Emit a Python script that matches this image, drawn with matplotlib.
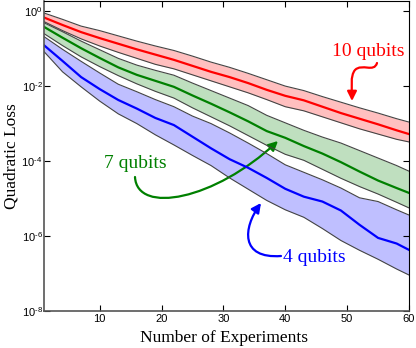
import numpy as np
import matplotlib
matplotlib.use("Agg")
import matplotlib.pyplot as plt
from matplotlib.path import Path
from matplotlib.patches import FancyArrowPatch
from matplotlib.ticker import FuncFormatter

plt.rcParams['mathtext.fontset'] = 'custom'
plt.rcParams['mathtext.rm'] = 'Liberation Sans'
plt.rcParams['mathtext.it'] = 'Liberation Sans:italic'

# number of experiments where values were read
experiments = [1, 4, 7, 10, 13, 16, 19, 22, 25, 28, 31, 34, 37, 40, 43, 46, 49, 52, 55, 58, 60]

# log10 of quadratic loss: mean, upper edge, lower edge of band
q10_mean = [-0.17, -0.37, -0.56, -0.72, -0.87, -1.02, -1.16, -1.30, -1.46, -1.62, -1.76,
            -1.92, -2.10, -2.26, -2.38, -2.55, -2.72, -2.87, -3.02, -3.18, -3.28]
q10_upper = [-0.05, -0.22, -0.40, -0.52, -0.66, -0.80, -0.93, -1.05, -1.20, -1.36, -1.50,
             -1.66, -1.83, -2.00, -2.12, -2.28, -2.43, -2.58, -2.72, -2.87, -2.96]
q10_lower = [-0.28, -0.52, -0.74, -0.93, -1.10, -1.26, -1.42, -1.54, -1.70, -1.86, -2.02,
             -2.18, -2.36, -2.55, -2.66, -2.82, -2.98, -3.14, -3.28, -3.42, -3.49]

q7_mean = [-0.42, -0.71, -0.99, -1.25, -1.50, -1.70, -1.86, -2.02, -2.25, -2.47, -2.70,
           -2.94, -3.20, -3.38, -3.60, -3.80, -4.03, -4.28, -4.52, -4.72, -4.85]
q7_upper = [-0.31, -0.55, -0.80, -1.03, -1.26, -1.44, -1.58, -1.71, -1.92, -2.12, -2.32,
            -2.52, -2.78, -2.98, -3.18, -3.36, -3.52, -3.72, -3.92, -4.12, -4.27]
q7_lower = [-0.60, -0.92, -1.22, -1.48, -1.72, -1.94, -2.14, -2.32, -2.58, -2.82, -3.06,
            -3.32, -3.58, -3.82, -3.98, -4.22, -4.46, -4.68, -4.88, -5.10, -5.25]

q4_mean = [-0.91, -1.33, -1.76, -2.08, -2.37, -2.60, -2.85, -3.04, -3.35, -3.66, -3.95,
           -4.18, -4.45, -4.74, -4.95, -5.08, -5.32, -5.70, -6.05, -6.20, -6.37]
q4_upper = [-0.68, -1.02, -1.34, -1.65, -1.95, -2.15, -2.36, -2.55, -2.80, -3.00, -3.25,
            -3.52, -3.80, -4.10, -4.30, -4.50, -4.72, -4.98, -5.08, -5.30, -5.44]
q4_lower = [-1.08, -1.62, -2.02, -2.40, -2.74, -3.00, -3.30, -3.57, -3.85, -4.12, -4.45,
            -4.75, -5.05, -5.30, -5.50, -5.80, -6.12, -6.38, -6.62, -6.88, -7.04]

series = [
    ("10 qubits", q10_mean, q10_upper, q10_lower, "#ff0000"),
    ("7 qubits", q7_mean, q7_upper, q7_lower, "#008000"),
    ("4 qubits", q4_mean, q4_upper, q4_lower, "#0000ff"),
]

fig = plt.figure(figsize=(4.16, 3.48), dpi=100)
ax = fig.add_axes([44 / 416, 37 / 348, 365 / 416, 310 / 348])

x = np.array(experiments)
for name, m, up, lo, col in series:
    up = 10.0 ** np.array(up)
    lo = 10.0 ** np.array(lo)
    ax.fill_between(x, lo, up, color=col, alpha=0.25, lw=0)
    ax.plot(x, up, color="#444444", lw=0.8)
    ax.plot(x, lo, color="#444444", lw=0.8)
    ax.plot(x, 10.0 ** np.array(m), color=col, lw=1.6)

ax.set_yscale("log")
ax.set_xlim(1, 60)
ax.set_ylim(1e-8, 10 ** 0.27)
ax.set_xticks([10, 20, 30, 40, 50, 60])
ax.set_yticks([1e-8, 1e-6, 1e-4, 1e-2, 1e0])
ax.minorticks_off()
# short hyphen in the exponent, like the original
ax.yaxis.set_major_formatter(FuncFormatter(
    lambda v, pos: "$10^{\\text{%d}}$" % round(np.log10(v))))
ax.tick_params(direction="in", top=True, right=True, length=4, labelsize=8, pad=2)
ax.tick_params(axis="y", pad=1)
for lab in ax.get_xticklabels():
    lab.set_family("Liberation Sans")
for s in ["left", "bottom"]:
    ax.spines[s].set_color("#555555")
    ax.spines[s].set_linewidth(1.2)

serif = "Liberation Serif"
ax.set_xlabel("Number of Experiments", family=serif, fontsize=12.5)
ax.set_ylabel("Quadratic Loss", family=serif, fontsize=12.5)
ax.xaxis.set_label_coords(0.493, -0.062)
ax.yaxis.set_label_coords(-0.0671, 0.498)


def pix(px, py):
    # pixel position in the image -> axes fraction
    return ((px - 44) / 365, (311 - py) / 310)


def curved_arrow(points, col):
    verts = [pix(*p) for p in points]
    codes = [Path.MOVETO] + [Path.CURVE4] * (len(verts) - 1)
    arr = FancyArrowPatch(path=Path(verts, codes), arrowstyle="-|>", mutation_scale=14,
                          color=col, lw=1.6, transform=ax.transAxes)
    ax.add_patch(arr)


ax.text(*pix(368, 52), "10 qubits", transform=ax.transAxes, color="#ff0000",
        family=serif, fontsize=14, ha="center", va="center")
curved_arrow([(377, 63), (374, 73), (362, 63), (355, 70),
              (350, 76), (352, 88), (352, 101)], "#ff0000")

ax.text(*pix(135, 163), "7 qubits", transform=ax.transAxes, color="#008000",
        family=serif, fontsize=14, ha="center", va="center")
curved_arrow([(135, 177), (137, 215), (215, 200), (278, 141)], "#008000")

ax.text(*pix(314, 257), "4 qubits", transform=ax.transAxes, color="#0000ff",
        family=serif, fontsize=14, ha="center", va="center")
curved_arrow([(281, 256), (240, 259), (243, 228), (261, 203)], "#0000ff")

fig.savefig("out.png", dpi=100)
